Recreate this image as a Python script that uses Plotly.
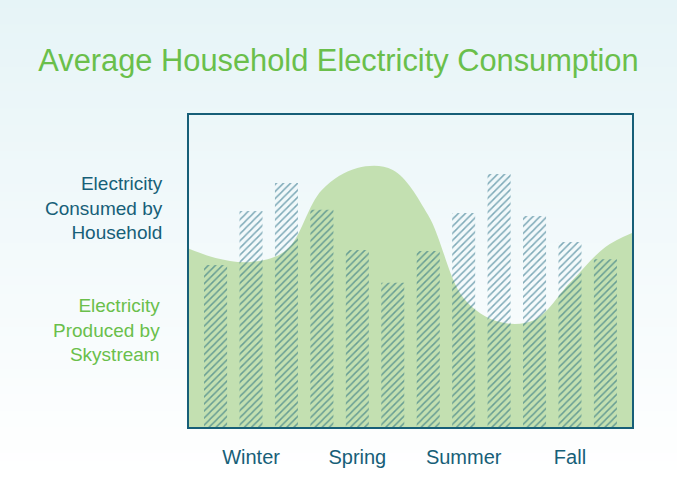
import plotly.graph_objects as go

# ---- data ----
months = list(range(12))
consumed = [51.9, 69.2, 78.2, 69.6, 56.7, 46.2, 56.4, 68.6, 81.1, 67.6, 59.3, 53.8]
produced_x = [-0.75, 0, 1, 2, 3, 4, 5, 6, 7, 8, 9, 10, 11, 11.75]
produced_y = [57.1, 54.2, 52.9, 56.7, 76.0, 83.0, 82.4, 67.9, 41.3, 33.7, 34.3, 46.2, 57.7, 62.2]
season_pos = [1, 4, 7, 10]
season_labels = ["Winter", "Spring", "Summer", "Fall"]

TEAL = "#175f78"
GREEN = "#6abf4b"
FILL = "#c3e0b1"

fig = go.Figure()

fig.add_trace(go.Scatter(
    x=produced_x, y=produced_y, mode="lines",
    line=dict(width=0, shape="spline", smoothing=1.0),
    fill="tozeroy", fillcolor=FILL, hoverinfo="skip", showlegend=False,
))

fig.add_trace(go.Bar(
    x=months, y=consumed, width=0.65, yaxis="y2",
    marker=dict(color="rgba(0,0,0,0)", line=dict(width=0),
                pattern=dict(shape="/", fgcolor="#0c5c76", bgcolor="rgba(0,0,0,0)",
                             size=5, solidity=0.3, fillmode="overlay")),
    showlegend=False,
))

# background gradient (top light blue -> white)
shapes = []
n = 60
top_px, bot_px = 0.0, 480.0
top_rgb = (230, 244, 247)
H = 504.0
plot_top, plot_bot = 115.0, 427.0
def px_to_paper(py):
    return (plot_bot - py) / (plot_bot - plot_top)
for i in range(n):
    p0 = i * H / n
    p1 = (i + 1) * H / n
    mid = (p0 + p1) / 2
    t = min(max((mid - top_px) / (bot_px - top_px), 0), 1)
    c = tuple(round(a + (255 - a) * t) for a in top_rgb)
    shapes.append(dict(type="rect", xref="paper", yref="paper", layer="below",
                       x0=-1, x1=2, y0=px_to_paper(p1) - 0.002, y1=px_to_paper(p0) + 0.002,
                       fillcolor="rgb(%d,%d,%d)" % c, line=dict(width=0)))

fig.update_layout(
    width=677, height=504,
    margin=dict(l=189, r=45, t=115, b=77),
    paper_bgcolor="white", plot_bgcolor="rgba(0,0,0,0)",
    shapes=shapes,
    font=dict(family="Liberation Sans, Arial, sans-serif"),
    title=dict(text="Average Household Electricity Consumption",
               x=0.5, xanchor="center", y=1 - 60 / 504, yanchor="middle",
               font=dict(size=30.8, color=GREEN)),
    xaxis=dict(range=[-0.75, 11.75], tickvals=season_pos, ticktext=season_labels,
               tickfont=dict(size=20, color=TEAL), ticks="outside", ticklen=11,
               tickcolor="rgba(0,0,0,0)", showgrid=False, zeroline=False,
               showline=True, mirror=True, linecolor=TEAL, linewidth=2),
    yaxis=dict(range=[0, 100], showticklabels=False, showgrid=False, zeroline=False,
               showline=True, mirror=True, linecolor=TEAL, linewidth=2),
    yaxis2=dict(range=[0, 100], overlaying="y", visible=False),
    bargap=0.35,
    annotations=[
        dict(text="Electricity<br>Consumed by<br>Household", xref="paper", yref="paper",
             x=-0.054, y=px_to_paper(208), xanchor="right", yanchor="middle", align="right",
             showarrow=False, font=dict(size=19, color=TEAL)),
        dict(text="Electricity<br>Produced by<br>Skystream", xref="paper", yref="paper",
             x=-0.061, y=px_to_paper(330), xanchor="right", yanchor="middle", align="right",
             showarrow=False, font=dict(size=19, color=GREEN)),
    ],
)

fig.write_html("out.html", config={"displayModeBar": False},
               post_script="document.body.style.margin='0';")
